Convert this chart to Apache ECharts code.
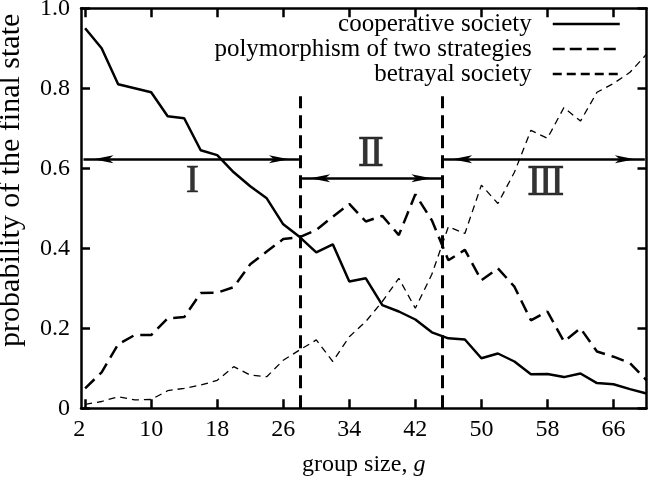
<!DOCTYPE html>
<html><head><meta charset="utf-8">
<script src="https://cdn.jsdelivr.net/npm/echarts@6/dist/echarts.min.js"></script>
<style>html,body{margin:0;padding:0;background:#fff}#c{width:648px;height:481px}</style>
</head><body><div id="c"></div>
<script>
const groupSizes = [2,4,6,8,10,12,14,16,18,20,22,24,26,28,30,32,34,36,38,40,42,44,46,48,50,52,54,56,58,60,62,64,66,68,70];
const cooperative = [0.95,0.90,0.81,0.80,0.79,0.73,0.725,0.645,0.633,0.59,0.555,0.525,0.46,0.428,0.39,0.41,0.317,0.325,0.258,0.242,0.222,0.19,0.175,0.172,0.125,0.137,0.117,0.085,0.086,0.078,0.087,0.063,0.06,0.048,0.037];
const polymorphism = [0.05,0.09,0.16,0.183,0.183,0.225,0.228,0.288,0.289,0.303,0.36,0.392,0.423,0.428,0.446,0.479,0.511,0.467,0.481,0.433,0.535,0.47,0.37,0.396,0.32,0.35,0.304,0.22,0.242,0.167,0.2,0.142,0.129,0.113,0.07];
const betrayal = [0.01,0.017,0.029,0.021,0.022,0.044,0.05,0.058,0.07,0.104,0.083,0.079,0.12,0.146,0.171,0.117,0.179,0.217,0.267,0.325,0.25,0.335,0.454,0.437,0.558,0.512,0.59,0.695,0.675,0.752,0.718,0.79,0.812,0.84,0.885];
const xTickValues = [2,10,18,26,34,42,50,58,66];
const seriesNames = ['cooperative society','polymorphism of two strategies','betrayal society'];
const regionBounds = [28, 45.2];
const regionNames = ['I','Ⅱ','Ⅲ'];

const FONT = "'Liberation Serif','DejaVu Serif',serif";
const pairs = arr => groupSizes.map((g,i)=>[g, arr[i]]);
const X_MIN = 1.5, X_MAX = 70;

function arrow(x1, x2, y) {
  const end = {symbol:'arrow', symbolSize:[6,20], symbolOffset:[0,10]};
  return [Object.assign({coord:[x1,y]}, end), Object.assign({coord:[x2,y]}, end)];
}
function vline(x) {
  return [{coord:[x,0], symbol:'none', lineStyle:{type:[13,7], width:3, color:'#000'}},
          {coord:[x,0.78], symbol:'none'}];
}

const axisLineStyle = {show:true, onZero:false, lineStyle:{color:'#000', width:2.5}};
const tickStyle = {show:true, inside:true, length:9, lineStyle:{color:'#000', width:2.5}};

const chart = echarts.init(document.getElementById('c'), null, {renderer:'canvas'});
chart.setOption({
  animation:false,
  backgroundColor:'#fff',
  grid:{left:81, right:1.5, top:8.3, bottom:72.7, containLabel:false, outerBoundsMode:'none'},
  legend:{
    orient:'vertical', right:27, top:11.5, align:'right', padding:0,
    itemWidth:67, itemHeight:14, itemGap:0,
    itemStyle:{opacity:0},
    textStyle:{fontFamily:FONT, fontSize:25, color:'#000', padding:[0,16,0,0], lineHeight:25},
    data:[
      {name:seriesNames[0], itemStyle:{opacity:0}, lineStyle:{width:2.5, type:'solid', color:'#000'}},
      {name:seriesNames[1], itemStyle:{opacity:0}, lineStyle:{width:2.5, type:[12,5], color:'#000'}},
      {name:seriesNames[2], itemStyle:{opacity:0}, lineStyle:{width:2.5, type:[9,5], color:'#000'}}
    ]
  },
  xAxis:[{
    type:'value', min:X_MIN, max:X_MAX, position:'bottom',
    axisLine:axisLineStyle,
    axisTick:Object.assign({customValues:xTickValues}, tickStyle),
    axisLabel:{customValues:xTickValues, fontFamily:FONT, fontSize:24, color:'#000', margin:9,
      alignMinLabel:'right'},
    splitLine:{show:false},
    name:'{a|group size, }{b|g}', nameLocation:'middle', nameGap:44,
    nameTextStyle:{rich:{a:{fontFamily:FONT, fontSize:24, color:'#000'}, b:{fontFamily:FONT, fontSize:24, color:'#000', fontStyle:'italic'}}}
  },{
    type:'value', min:X_MIN, max:X_MAX, position:'top',
    axisLine:axisLineStyle,
    axisTick:Object.assign({customValues:xTickValues}, tickStyle),
    axisLabel:{show:false}, splitLine:{show:false}
  }],
  yAxis:[{
    type:'value', min:0, max:1, interval:0.2, position:'left',
    axisLine:axisLineStyle, axisTick:tickStyle,
    axisLabel:{fontFamily:FONT, fontSize:24, color:'#000', margin:11,
      formatter:v => v === 0 ? '0' : v.toFixed(1)},
    splitLine:{show:false},
    name:'probability of the final state', nameLocation:'middle', nameGap:55,
    nameTextStyle:{fontFamily:FONT, fontSize:30, color:'#000', padding:[0,0,0,56]}
  },{
    type:'value', min:0, max:1, interval:0.2, position:'right',
    axisLine:axisLineStyle, axisTick:tickStyle,
    axisLabel:{show:false}, splitLine:{show:false}
  }],
  series:[
    {name:seriesNames[0], type:'line', data:pairs(cooperative), symbol:'none', showSymbol:false,
     lineStyle:{color:'#000', width:2.5, type:'solid'}, itemStyle:{color:'#000'}, z:5},
    {name:seriesNames[1], type:'line', data:pairs(polymorphism), symbol:'none', showSymbol:false,
     lineStyle:{color:'#000', width:2.5, type:[13,7]}, itemStyle:{color:'#000'}, z:5},
    {name:seriesNames[2], type:'line', data:pairs(betrayal), symbol:'none', showSymbol:false,
     lineStyle:{color:'#000', width:1.3, type:[7,5]}, itemStyle:{color:'#000'}, z:5},
    {name:'regions', type:'scatter', symbolSize:0, silent:true, z:6,
     data:[
       {name:regionNames[0], value:[15,0.566]},
       {name:regionNames[1], value:[36.6,0.633]},
       {name:regionNames[2], value:[57.8,0.56]}
     ],
     label:{show:true, position:'inside', formatter:'{b}', fontFamily:FONT, fontSize:40, color:'#000',
       textBorderColor:'#000', textBorderWidth:0.5},
     markLine:{
       silent:true, animation:false, label:{show:false},
       lineStyle:{color:'#000', width:2.5, type:'solid'},
       emphasis:{disabled:true},
       data:[
         vline(regionBounds[0]), vline(regionBounds[1]),
         arrow(1.8, regionBounds[0]-0.1, 0.6225),
         arrow(regionBounds[0]+0.05, regionBounds[1]-0.05, 0.575),
         arrow(regionBounds[1]+0.05, 69.8, 0.6225)
       ]
     }}
  ]
});
</script></body></html>
